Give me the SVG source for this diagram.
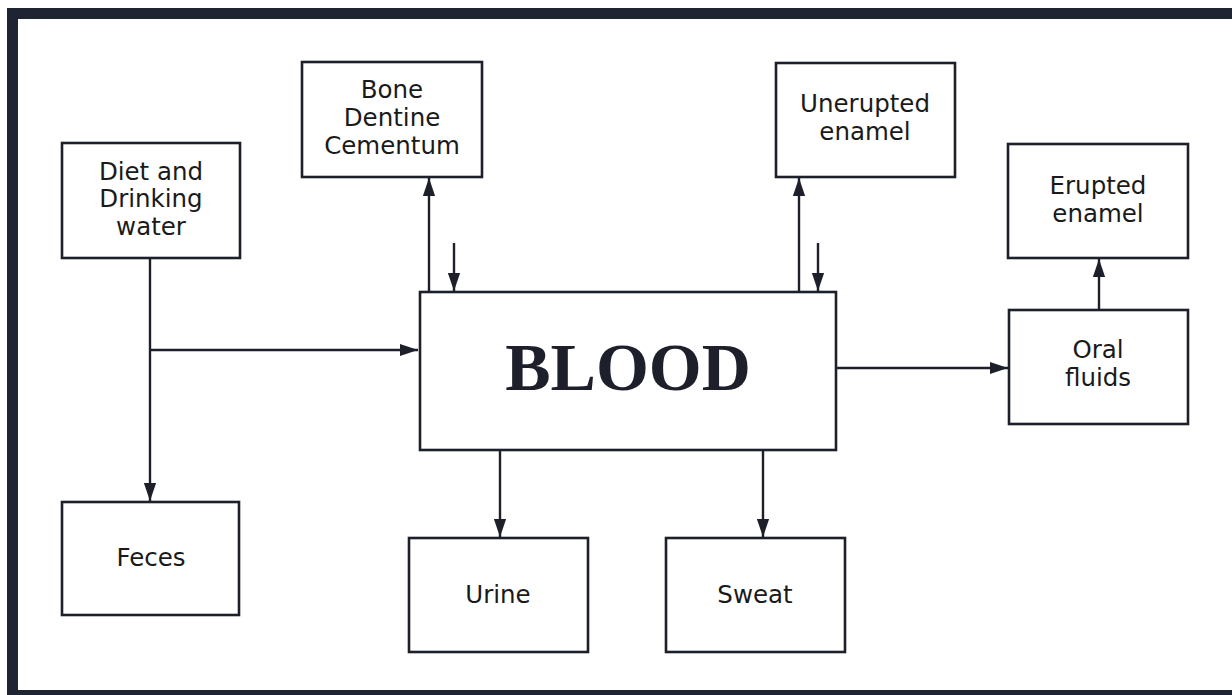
<svg xmlns="http://www.w3.org/2000/svg" width="1232" height="695" viewBox="0 0 1232 695">
<defs>
<style>
.box{fill:#fff;stroke:#1d1f2a;stroke-width:2.6}
.lbl{font-family:"DejaVu Sans","Liberation Sans",sans-serif;font-size:24.5px;fill:#1a1a1a;text-anchor:middle}
.big{font-family:"Liberation Serif","DejaVu Serif",serif;font-weight:bold;font-size:68px;fill:#1d1f2a;text-anchor:middle}
.con{fill:none;stroke:#1d1f2a;stroke-width:2.4}
</style>
<marker id="ahb" viewBox="0 0 10 10" refX="10" refY="5" markerWidth="18" markerHeight="18" orient="auto" markerUnits="userSpaceOnUse">
<path d="M0,1.6 L10,5 L0,8.4 Z" fill="#1d1f2a"/>
</marker>
</defs>
<rect width="1232" height="695" fill="#fff"/>
<g id="frame">
<rect x="7" y="8" width="1225" height="11" fill="#1f2433"/>
<rect x="7" y="8" width="11" height="687" fill="#1f2433"/>
<rect x="7" y="690" width="1225" height="5" fill="#1f2433"/>
</g>
<g id="connectors">
<line class="con" x1="150" y1="258" x2="150" y2="501" marker-end="url(#ahb)"/>
<line class="con" x1="150" y1="350" x2="418" y2="350" marker-end="url(#ahb)"/>
<line class="con" x1="429" y1="292" x2="429" y2="178" marker-end="url(#ahb)"/>
<line class="con" x1="454" y1="243" x2="454" y2="291" marker-end="url(#ahb)"/>
<line class="con" x1="799" y1="292" x2="799" y2="178" marker-end="url(#ahb)"/>
<line class="con" x1="818" y1="243" x2="818" y2="291" marker-end="url(#ahb)"/>
<line class="con" x1="836" y1="368" x2="1008" y2="368" marker-end="url(#ahb)"/>
<line class="con" x1="1099" y1="310" x2="1099" y2="259" marker-end="url(#ahb)"/>
<line class="con" x1="500" y1="451" x2="500" y2="537" marker-end="url(#ahb)"/>
<line class="con" x1="763" y1="451" x2="763" y2="537" marker-end="url(#ahb)"/>
</g>
<g id="diet">
<rect class="box" x="62" y="143" width="178" height="115"/>
<text class="lbl" x="151" y="180">Diet and</text>
<text class="lbl" x="151" y="207">Drinking</text>
<text class="lbl" x="151" y="235">water</text>
</g>
<g id="feces">
<rect class="box" x="62" y="502" width="177" height="113"/>
<text class="lbl" x="151" y="566">Feces</text>
</g>
<g id="bone">
<rect class="box" x="302" y="62" width="180" height="115"/>
<text class="lbl" x="392" y="98">Bone</text>
<text class="lbl" x="392" y="126">Dentine</text>
<text class="lbl" x="392" y="154">Cementum</text>
</g>
<g id="unerupted">
<rect class="box" x="776" y="63" width="179" height="114"/>
<text class="lbl" x="865" y="112">Unerupted</text>
<text class="lbl" x="865" y="140">enamel</text>
</g>
<g id="erupted">
<rect class="box" x="1008" y="144" width="180" height="114"/>
<text class="lbl" x="1098" y="194">Erupted</text>
<text class="lbl" x="1098" y="222">enamel</text>
</g>
<g id="oral">
<rect class="box" x="1009" y="310" width="179" height="114"/>
<text class="lbl" x="1098" y="358">Oral</text>
<text class="lbl" x="1098" y="386">fluids</text>
</g>
<g id="blood">
<rect class="box" x="420" y="292" width="416" height="158"/>
<text class="big" x="628" y="390">BLOOD</text>
</g>
<g id="urine">
<rect class="box" x="409" y="538" width="179" height="114"/>
<text class="lbl" x="498" y="603">Urine</text>
</g>
<g id="sweat">
<rect class="box" x="666" y="538" width="179" height="114"/>
<text class="lbl" x="755" y="603">Sweat</text>
</g>
</svg>
